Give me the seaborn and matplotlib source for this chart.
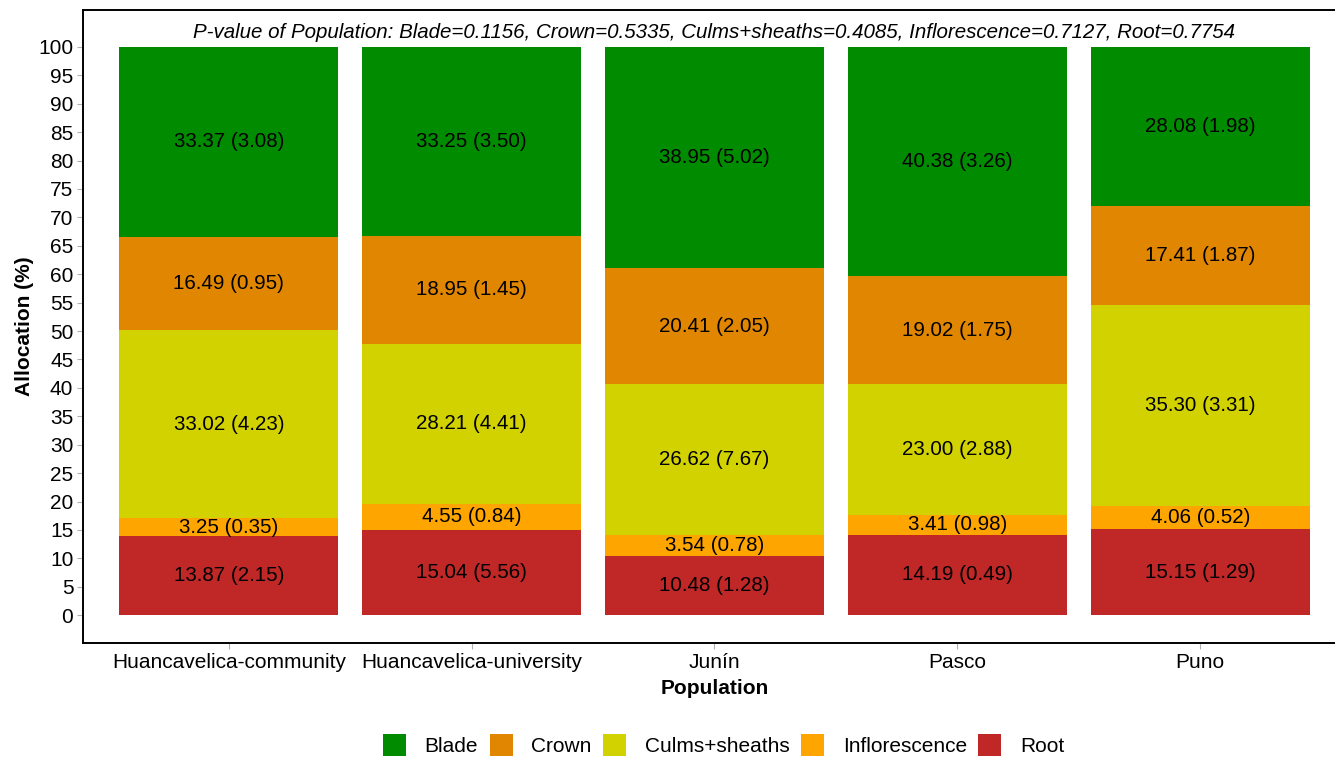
import numpy as np
import pandas as pd
import matplotlib
matplotlib.use('Agg')
import matplotlib.pyplot as plt
import seaborn as sns
from matplotlib.patches import Patch

# Data: mean (se) allocation per organ
populations = ['Huancavelica-community', 'Huancavelica-university', 'Junín', 'Pasco', 'Puno']
organs = ['Blade', 'Crown', 'Culms+sheaths', 'Inflorescence', 'Root']
blade = [33.37, 33.25, 38.95, 40.38, 28.08]
blade_se = [3.08, 3.50, 5.02, 3.26, 1.98]
crown = [16.49, 18.95, 20.41, 19.02, 17.41]
crown_se = [0.95, 1.45, 2.05, 1.75, 1.87]
culms = [33.02, 28.21, 26.62, 23.00, 35.30]
culms_se = [4.23, 4.41, 7.67, 2.88, 3.31]
infl = [3.25, 4.55, 3.54, 3.41, 4.06]
infl_se = [0.35, 0.84, 0.78, 0.98, 0.52]
root = [13.87, 15.04, 10.48, 14.19, 15.15]
root_se = [2.15, 5.56, 1.28, 0.49, 1.29]
pvalues = [0.1156, 0.5335, 0.4085, 0.7127, 0.7754]

colors = {'Blade': '#008B00', 'Crown': '#E08600', 'Culms+sheaths': '#D2D200',
          'Inflorescence': '#FFA500', 'Root': '#C02727'}


def main():
    sns.set_style('white')
    plt.rcParams['font.family'] = ['Liberation Sans', 'DejaVu Sans']
    plt.rcParams['text.color'] = 'black'
    plt.rcParams['axes.labelcolor'] = 'black'

    means = {'Blade': blade, 'Crown': crown, 'Culms+sheaths': culms,
             'Inflorescence': infl, 'Root': root}
    ses = {'Blade': blade_se, 'Crown': crown_se, 'Culms+sheaths': culms_se,
           'Inflorescence': infl_se, 'Root': root_se}

    # stack from the bottom: Root, Inflorescence, Culms+sheaths, Crown, Blade
    stack_order = ['Root', 'Inflorescence', 'Culms+sheaths', 'Crown', 'Blade']
    vals = np.array([means[o] for o in stack_order])
    tops = np.cumsum(vals, axis=0)

    fig = plt.figure(figsize=(13.35, 7.57), dpi=100)
    ax = fig.add_axes([0.0622, 0.1506, 0.946, 0.8362])

    # draw tallest first so each lower segment covers it
    for i in range(len(stack_order) - 1, -1, -1):
        df = pd.DataFrame({'Population': populations, 'top': tops[i]})
        sns.barplot(data=df, x='Population', y='top', order=populations,
                    color=colors[stack_order[i]], saturation=1, width=0.9,
                    linewidth=0, ax=ax)

    for i, organ in enumerate(stack_order):
        for j in range(len(populations)):
            mid = tops[i, j] - vals[i, j] / 2
            ax.text(j, mid, f'{means[organ][j]:.2f} ({ses[organ][j]:.2f})',
                    ha='center', va='center', fontsize=14.8, color='black')

    title = 'P-value of Population: ' + ', '.join(
        f'{o}={p:.4f}' for o, p in zip(organs, pvalues))
    ax.text(2, 102.6, title, ha='center', va='center', fontsize=14.8, style='italic')

    ax.set_ylim(-4.9, 106.5)
    ax.set_xlim(-0.6, 4.6)
    ax.set_yticks(range(0, 101, 5))
    ax.tick_params(axis='both', labelsize=15, length=4, color='#b0b0b0',
                   labelcolor='black', direction='out', left=True, bottom=True, pad=3)
    ax.set_xlabel('Population', fontsize=15, fontweight='bold', labelpad=5)
    ax.set_ylabel('Allocation (%)', fontsize=15, fontweight='bold', labelpad=3)
    for s in ax.spines.values():
        s.set_color('black')
        s.set_linewidth(1.4)

    handles = [Patch(facecolor=colors[o], edgecolor='none', label=o) for o in organs]
    fig.legend(handles=handles, loc='center', bbox_to_anchor=(0.542, 0.016),
               ncol=5, frameon=False, fontsize=15, handlelength=1.1,
               handleheight=1.3, handletextpad=0.9, columnspacing=0.55)

    plt.savefig('out.png', dpi=100)
    plt.close()


if __name__ == '__main__':
    main()
